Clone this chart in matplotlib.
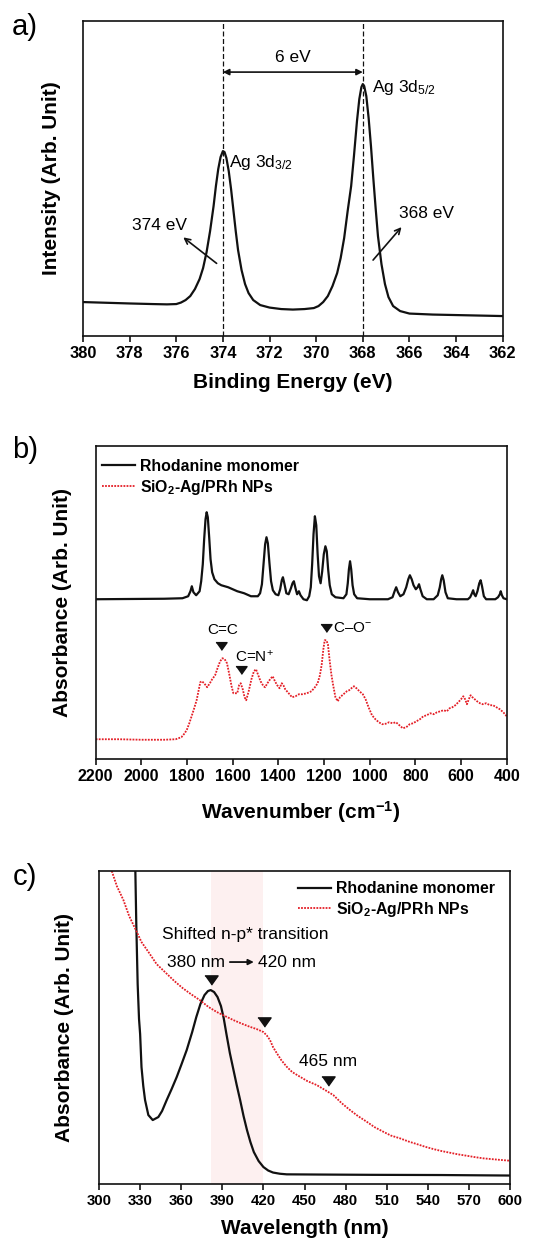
import matplotlib
matplotlib.use('Agg')
import matplotlib.pyplot as plt

plt.rcParams['font.family'] = ['Liberation Sans', 'DejaVu Sans']
plt.rcParams['mathtext.fontset'] = 'custom'
plt.rcParams['mathtext.rm'] = 'Liberation Sans'
plt.rcParams['mathtext.it'] = 'Liberation Sans:italic'
plt.rcParams['mathtext.bf'] = 'Liberation Sans:bold'

# a) XPS Ag 3d
xps_energy = [380.0, 379.0, 378.0, 377.0, 376.4, 376.0, 375.8, 375.6, 375.4, 375.2, 375.0,
              374.85, 374.7, 374.55, 374.4, 374.3, 374.2, 374.1, 374.0, 373.93, 373.85,
              373.75, 373.65, 373.55, 373.45, 373.35, 373.2, 373.05, 372.9, 372.7, 372.4,
              372.0, 371.5, 371.0, 370.5, 370.1, 369.9, 369.7, 369.5, 369.3, 369.1, 368.95,
              368.8, 368.65, 368.5, 368.38, 368.25, 368.15, 368.06, 368.0, 367.94, 367.85,
              367.75, 367.65, 367.55, 367.45, 367.35, 367.2, 367.05, 366.9, 366.7, 366.4,
              366.0, 365.0, 364.0, 363.0, 362.0]
xps_intensity = [34, 33.3, 32.6, 32, 31.7, 32, 33.5, 36, 40, 47, 57,
                 68, 84, 105, 130, 150, 167, 179, 185, 184, 178,
                 165, 147, 126, 105, 86, 66, 52, 43, 36, 31,
                 28.5, 27, 26.5, 27, 28, 30, 34, 40, 50, 63, 78,
                 98, 125, 150, 180, 215, 237, 249, 252, 250, 240,
                 218, 190, 158, 128, 100, 72, 52, 39, 30, 25,
                 22.5, 21.5, 21, 20.5, 20]
xps_ticks = [380, 378, 376, 374, 372, 370, 368, 366, 364, 362]

# b) FT-IR
ir_wn_mono = [2200, 1900, 1820, 1795, 1785, 1779, 1772, 1760, 1745, 1738, 1731, 1725, 1719, 1714,
              1709, 1703, 1697, 1690, 1680, 1665, 1650, 1620, 1600, 1580, 1550, 1520, 1490, 1480,
              1472, 1465, 1458, 1452, 1446, 1439, 1432, 1424, 1412, 1400, 1392, 1385, 1380, 1374,
              1365, 1355, 1345, 1338, 1332, 1325, 1318, 1310, 1303, 1290, 1275, 1265, 1258, 1252,
              1246, 1240, 1234, 1228, 1222, 1215, 1208, 1201, 1194, 1188, 1182, 1175, 1166, 1150,
              1115, 1102, 1096, 1091, 1086, 1081, 1075, 1068, 1055, 1000, 920, 900, 891, 884, 876,
              866, 852, 840, 831, 824, 816, 808, 798, 790, 784, 778, 768, 750, 720, 702, 693, 687,
              682, 676, 668, 658, 620, 570, 560, 552, 547, 542, 536, 528, 520, 514, 508, 500, 490,
              450, 438, 430, 426, 421, 414, 400]
ir_abs_mono = [160, 160.5, 161, 163, 168, 173, 167, 164, 168, 178, 195, 220, 240, 247,
               242, 222, 200, 187, 180, 176, 174, 172, 170, 168, 166, 163, 163, 166,
               175, 195, 215, 222, 216, 196, 178, 169, 165, 164, 170, 179, 182, 176,
               166, 165, 171, 176, 178, 171, 165, 168, 164, 160, 159, 163, 172, 195,
               225, 243, 234, 205, 183, 176, 188, 205, 213, 208, 190, 174, 165, 162,
               161, 165, 176, 190, 198, 190, 174, 165, 161, 160, 160, 162, 168, 172, 167,
               163, 165, 172, 180, 184, 180, 174, 170, 172, 175, 170, 163, 160, 160, 164, 172, 180,
               184, 179, 167, 161, 160, 160, 162, 166, 169, 165, 163, 168, 176, 179, 173, 163, 160,
               160, 162, 165, 168, 164, 161, 160]
ir_wn_np = [2200, 2100, 2000, 1900, 1850, 1825, 1810, 1800, 1790, 1780, 1770, 1758, 1748, 1742,
            1735, 1725, 1712, 1700, 1690, 1677, 1665, 1655, 1645, 1635, 1625, 1615, 1605, 1597,
            1588, 1580, 1572, 1565, 1556, 1548, 1541, 1530, 1518, 1507, 1498, 1488, 1478, 1465,
            1458, 1448, 1436, 1425, 1415, 1405, 1395, 1385, 1378, 1370, 1355, 1340, 1325, 1310,
            1295, 1275, 1255, 1240, 1228, 1218, 1210, 1203, 1197, 1190, 1183, 1176, 1168, 1160,
            1150, 1140, 1130, 1120, 1110, 1100, 1090, 1080, 1069, 1058, 1045, 1030, 1018, 1005,
            990, 975, 960, 945, 930, 915, 900, 885, 870, 855, 840, 825, 810, 795, 780, 765, 750,
            735, 720, 705, 690, 677, 662, 650, 638, 625, 612, 600, 590, 582, 574, 566, 558, 550,
            540, 530, 517, 505, 490, 473, 460, 445, 430, 415, 400]
ir_abs_np = [20, 20, 19.5, 19.5, 20, 22, 26, 30, 36, 43, 50, 59, 70, 77,
             78, 76, 72, 76, 80, 84, 92, 98, 101, 100, 96, 85, 73, 66,
             66, 66, 74, 76, 70, 62, 59, 68, 80, 88, 90, 84, 78, 73,
             72, 76, 80, 83, 78, 74, 71, 76, 74, 70, 66, 62, 63, 65,
             65, 66, 68, 72, 76, 84, 95, 110, 119, 119, 115, 100, 85, 74,
             62, 58, 62, 64, 66, 68, 69, 71, 73, 71, 68, 65, 60, 52,
             44, 40, 37, 35, 35.5, 37, 36, 37, 34, 31, 32, 35, 36, 38, 40, 43, 44,
             46, 45, 47, 48, 49, 48, 51, 52, 54, 57, 60, 63, 60, 55, 60, 64, 62,
             60, 58, 56, 55, 56, 54, 54, 52, 50, 47, 43]
ir_ticks = [2200, 2000, 1800, 1600, 1400, 1200, 1000, 800, 600, 400]

# c) UV-Vis
uv_wl_mono = [326.3, 327.2, 328.2, 329.2, 330, 331, 332.3, 333.6, 336, 339.2, 343.3, 346, 349.4,
              353, 356.7, 360, 364, 368, 371, 374, 377, 379.5, 381.5, 384, 386.5, 389, 391,
              393, 395.5, 398, 400.5, 403, 405.5, 408, 410.5, 413, 416.5, 420, 423.5, 427,
              432, 437, 460, 500, 550, 600]
uv_abs_mono = [330, 260, 200, 165, 150, 117, 98, 84, 69, 64, 67, 73, 84,
               95, 107, 119, 134, 152, 167, 180, 189, 193, 194, 192, 187, 178, 166,
               150, 131, 115, 99, 84, 68, 54, 42, 32, 23, 17, 13.5, 11.5,
               10.3, 9.7, 9.5, 9.2, 9, 8.5]
uv_wl_np = [309.3, 313, 317.8, 322, 326.9, 331, 336.6, 342, 348.9, 355, 361, 367, 373.5, 380,
            386, 392, 398, 404, 410, 415, 420, 422.5, 424.8, 427, 429.7, 433, 437, 441, 446.7,
            452, 458.9, 465, 471, 477, 483.2, 489, 495.4, 501, 507.5, 513, 519.7, 526, 531.9,
            538, 544, 550, 556.2, 562, 568.4, 574, 580.5, 590, 600]
uv_abs_np = [313, 298, 284, 268, 254, 242, 231, 220, 211, 203, 196, 190, 184, 177,
             172, 168, 164, 160.5, 157.3, 155, 152, 148.5, 144, 137, 131, 124, 117.3, 112, 107.3,
             103, 99, 94, 89, 81, 74, 68, 62.3, 57, 52.3, 48.5, 45.7, 42.5, 40,
             37.3, 35, 33, 31.3, 29.7, 28.3, 27, 25.7, 24.5, 23.3]
uv_ticks = [300, 330, 360, 390, 420, 450, 480, 510, 540, 570, 600]

black = '#111111'
red = '#e41e26'
red_ls = (0, (1.0, 0.7))
tri = [(-1, 0.7), (1, 0.7), (0, -0.7)]

fig = plt.figure(figsize=(5.45, 12.41), dpi=100)


def style_axes(ax, xlim, ylim, ticks, tick_size):
    ax.set_xlim(xlim)
    ax.set_ylim(ylim)
    ax.set_xticks(ticks)
    ax.set_yticks([])
    ax.tick_params(axis='x', direction='out', length=4, width=1.1, pad=3,
                   labelsize=tick_size, top=False)
    for lab in ax.get_xticklabels():
        lab.set_fontweight('bold')
    for sp in ax.spines.values():
        sp.set_linewidth(1.2)
        sp.set_color(black)


# a) XPS
ax1 = fig.add_axes([0.1523, 0.7292, 0.7701, 0.2538])
ax1.plot(xps_energy, xps_intensity, color=black, lw=1.6)
for e in (374, 368):
    ax1.axvline(e, color=black, lw=0.9, ls=(0, (4, 2)))
style_axes(ax1, (380, 362), (0, 315), xps_ticks, 11.8)
ax1.set_xlabel('Binding Energy (eV)', fontsize=15, fontweight='bold')
ax1.set_ylabel('Intensity (Arb. Unit)', fontsize=15, fontweight='bold')
ax1.xaxis.set_label_coords(0.5, -0.146)
ax1.xaxis.label.set_va('center')
ax1.yaxis.set_label_coords(-0.0746, 0.5)
ax1.yaxis.label.set_va('center')
ax1.annotate('', xy=(368, 264), xytext=(374, 264),
             arrowprops=dict(arrowstyle='<|-|>', color=black, lw=1.2,
                             mutation_scale=9, shrinkA=0, shrinkB=0))
ax1.text(371, 279, '6 eV', fontsize=12.5, ha='center', va='center')
ax1.text(367.6, 249, r'Ag 3d$_{5/2}$', fontsize=12.5, ha='left', va='center')
ax1.text(373.75, 174, r'Ag 3d$_{3/2}$', fontsize=12.5, ha='left', va='center')
ax1.text(376.7, 111, '374 eV', fontsize=12.5, ha='center', va='center')
ax1.text(365.27, 122.7, '368 eV', fontsize=12.5, ha='center', va='center')
ax1.annotate('', xy=(375.7, 98.7), xytext=(374.27, 72.7),
             arrowprops=dict(arrowstyle='->', color=black, lw=1.2,
                             mutation_scale=10, shrinkA=0, shrinkB=0))
ax1.annotate('', xy=(366.34, 109), xytext=(367.56, 76),
             arrowprops=dict(arrowstyle='->', color=black, lw=1.2,
                             mutation_scale=10, shrinkA=0, shrinkB=0))

# b) FT-IR
ax2 = fig.add_axes([0.1756, 0.3882, 0.7541, 0.2527])
ax2.plot(ir_wn_mono, ir_abs_mono, color=black, lw=1.6, label='Rhodanine monomer')
ax2.plot(ir_wn_np, ir_abs_np, color=red, lw=1.3, ls=red_ls,
         label=r'SiO$_{\mathbf{2}}$-Ag/PRh NPs')
style_axes(ax2, (2200, 400), (0, 313.6), ir_ticks, 11.5)
ax2.set_xlabel(r'Wavenumber (cm$^{\mathbf{-1}}$)', fontsize=15, fontweight='bold')
ax2.set_ylabel('Absorbance (Arb. Unit)', fontsize=15, fontweight='bold')
ax2.xaxis.set_label_coords(0.5, -0.1696)
ax2.xaxis.label.set_va('center')
ax2.yaxis.set_label_coords(-0.0808, 0.5)
ax2.yaxis.label.set_va('center')
ax2.legend(loc='upper left', bbox_to_anchor=(0.0146, 0.958), frameon=False,
           borderaxespad=0, borderpad=0, handlelength=2.1, handletextpad=0.3,
           labelspacing=0.25, prop={'weight': 'bold', 'size': 11.4})
ax2.plot([1652, 1563, 1191], [113.3, 89.3, 131], ls='none', marker=tri,
         ms=8, color=black)
ax2.text(1644, 129.3, 'C=C', fontsize=11, ha='center', va='center')
ax2.text(1590, 102.6, r'C=N$^{+}$', fontsize=11, ha='left', va='center')
ax2.text(1159, 131, 'C\u2013O$^{-}$', fontsize=11, ha='left', va='center')

# c) UV-Vis
ax3 = fig.add_axes([0.1817, 0.0459, 0.7541, 0.2522])
ax3.axvspan(381.5, 420, color='#fdf0f0', lw=0, zorder=0)
ax3.plot(uv_wl_mono, uv_abs_mono, color=black, lw=1.6, label='Rhodanine monomer')
ax3.plot(uv_wl_np, uv_abs_np, color=red, lw=1.3, ls=red_ls,
         label=r'SiO$_{\mathbf{2}}$-Ag/PRh NPs')
style_axes(ax3, (300, 600), (0, 313), uv_ticks, 10.8)
ax3.set_xlabel('Wavelength (nm)', fontsize=15, fontweight='bold')
ax3.set_ylabel('Absorbance (Arb. Unit)', fontsize=15, fontweight='bold')
ax3.xaxis.set_label_coords(0.5, -0.1406)
ax3.xaxis.label.set_va('center')
ax3.yaxis.set_label_coords(-0.0852, 0.5)
ax3.yaxis.label.set_va('center')
ax3.legend(loc='upper left', bbox_to_anchor=(0.484, 0.968), frameon=False,
           borderaxespad=0, borderpad=0, handlelength=2.1, handletextpad=0.3,
           labelspacing=0.25, prop={'weight': 'bold', 'size': 11.4})
ax3.plot([381.5, 420.7, 466.9], [204, 162.3, 103], ls='none', marker=tri,
         ms=9.5, color=black)
ax3.text(406.4, 250, 'Shifted n-p* transition', fontsize=12.5, ha='center', va='center')
ax3.text(371, 222, '380 nm', fontsize=12.5, ha='center', va='center')
ax3.text(437, 222, '420 nm', fontsize=12.5, ha='center', va='center')
ax3.annotate('', xy=(413, 222), xytext=(395.5, 222),
             arrowprops=dict(arrowstyle='-|>', color=black, lw=1.3,
                             mutation_scale=8, shrinkA=0, shrinkB=0))
ax3.text(467.4, 122.3, '465 nm', fontsize=12.5, ha='center', va='center')

# panel letters
fig.text(12 / 545, 1 - 27 / 1241, 'a)', fontsize=21, ha='left', va='center')
fig.text(12 / 545, 1 - 450 / 1241, 'b)', fontsize=21, ha='left', va='center')
fig.text(13 / 545, 1 - 877 / 1241, 'c)', fontsize=21, ha='left', va='center')

fig.savefig('out.png', dpi=100)
